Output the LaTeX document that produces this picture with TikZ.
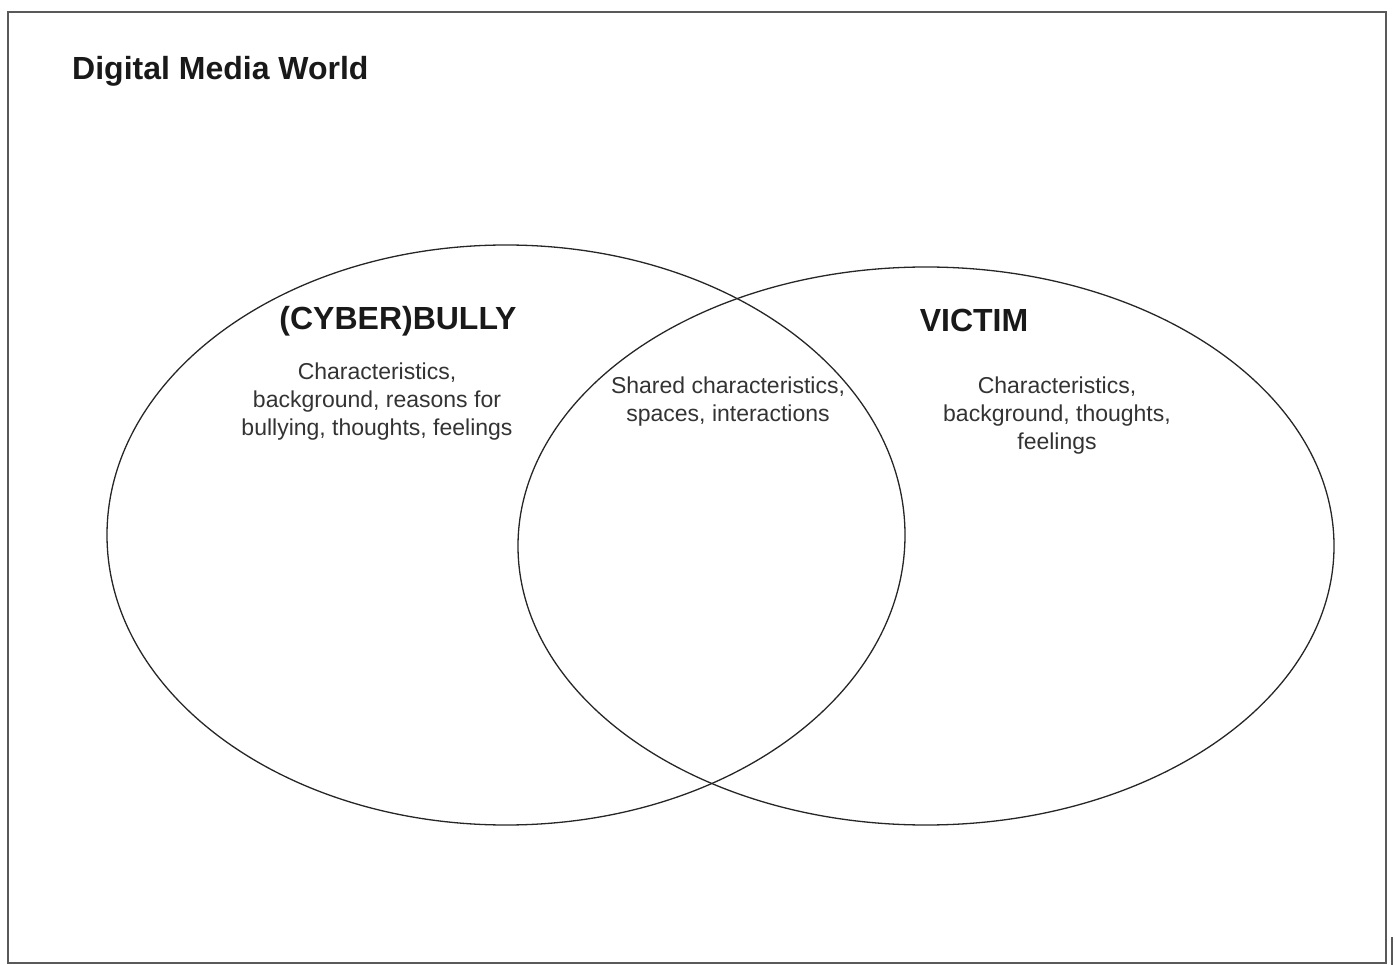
\documentclass[tikz,border=0pt]{standalone}
\usepackage{fontspec}
\setmainfont{Liberation Sans}
\begin{document}
\begin{tikzpicture}[x=1pt,y=-1pt,
  frameline/.style={draw=black!65,line width=1.6pt},
  setline/.style={draw=black!85,line width=1.3pt},
  heading/.style={font=\fontsize{32}{38}\selectfont\bfseries,text=black!90,inner sep=0pt},
  bodytext/.style={font=\fontsize{23}{28}\selectfont,text=black!80,align=center,inner sep=0pt}]
  \useasboundingbox (0,0) rectangle (1395,965);
  % outer frame
  \draw[frameline] (8,12) rectangle (1386,963);
  \draw[frameline] (1392,937) -- (1392,965);
  % title
  \node[heading,anchor=west] (title) at (72,71) {Digital Media World};
  % the two sets
  \draw[setline] (506,535) ellipse [x radius=399, y radius=290];
  \draw[setline] (926,546) ellipse [x radius=408, y radius=279];
  % set labels
  \node[heading] (bully) at (398,321) {(CYBER)BULLY};
  \node[heading] (victim) at (974,320) {VICTIM};
  % set contents
  \node[bodytext] (bullytext) at (377,402) {Characteristics,\\background, reasons for\\bullying, thoughts, feelings};
  \node[bodytext] (sharedtext) at (728,402) {Shared characteristics,\\spaces, interactions};
  \node[bodytext] (victimtext) at (1057,416) {Characteristics,\\background, thoughts,\\feelings};
\end{tikzpicture}
\end{document}
